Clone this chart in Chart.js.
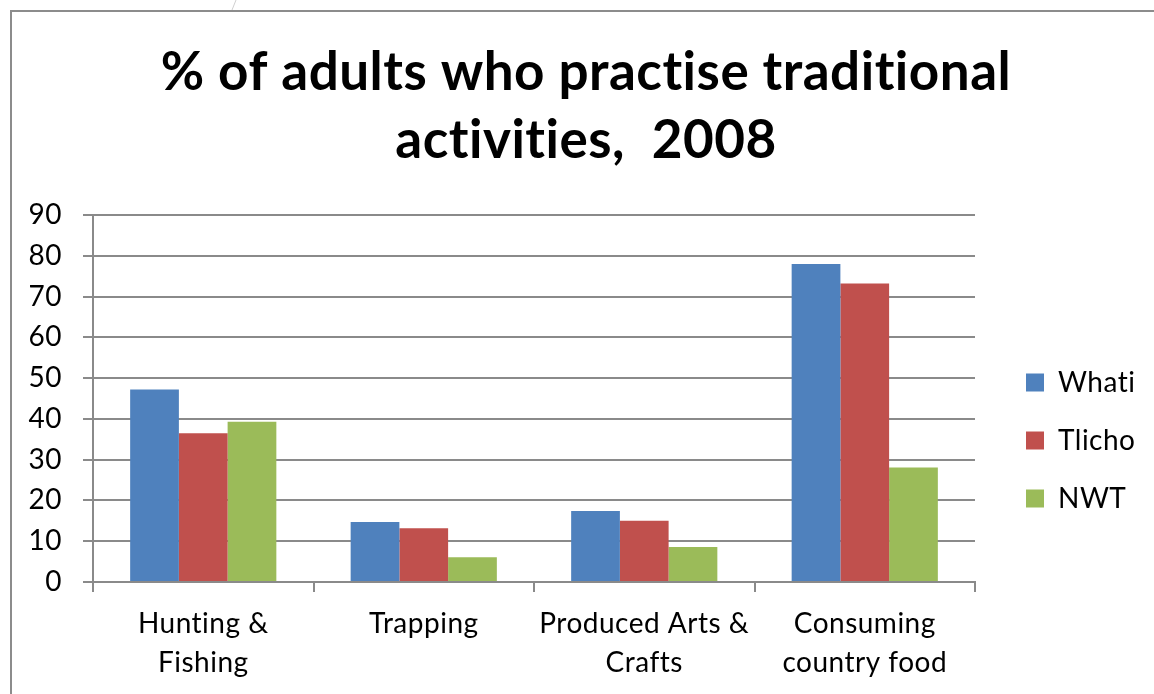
<!DOCTYPE html>
<html>
<head>
<meta charset="utf-8">
<title>% of adults who practise traditional activities, 2008</title>
<script src="https://cdn.jsdelivr.net/npm/chart.js@4.4.1/dist/chart.umd.min.js"></script>
<style>
    html, body { margin: 0; padding: 0; background: #fff; }
    #wrap { width: 1154px; height: 694px; position: relative; }
</style>
</head>
<body>
<div id="wrap"><canvas id="chart"></canvas></div>
<script>
// === data ===
const categories = [
    ["Hunting &", "Fishing"],
    ["Trapping"],
    ["Produced Arts &", "Crafts"],
    ["Consuming", "country food"],
];
const seriesNames = ["Whati", "Tlicho", "NWT"];
const whati = [47.2, 14.7, 17.4, 78.0];
const tlicho = [36.5, 13.2, 15.0, 73.2];
const nwt = [39.3, 6.1, 8.6, 28.1];
const yTicks = [0, 10, 20, 30, 40, 50, 60, 70, 80, 90];

const colors = ["#4F81BD", "#C0504D", "#9BBB59"];
const GRID = "#8a8a8a";
const FONT = "Lato, 'Open Sans', sans-serif";

// no "ti" ligatures: a tiny letter spacing turns them off in canvas text
function noLigatures(chart) {
    chart.ctx.letterSpacing = "0.5px";
}

// chart frame + legend width / placement
const framePlugin = {
    id: "frame",
    beforeUpdate(chart) {
        noLigatures(chart);
        const lg = chart.legend;
        if (lg && !lg._fixedFit) {
            const fit = lg.fit.bind(lg);
            lg.fit = function () {
                fit();
                this.width = 179;
            };
            lg._fixedFit = true;
        }
    },
    afterLayout(chart) {
        const lg = chart.legend;
        const dx = 1026 - (lg.left + lg.options.labels.padding);
        const dy = 42;
        lg.left += dx; lg.right += dx;
        lg.top += dy; lg.bottom += dy;
        if (lg.adjustHitBoxes) lg.adjustHitBoxes();
    },
    beforeDraw(chart) {
        noLigatures(chart);
        const ctx = chart.ctx;
        ctx.save();
        ctx.strokeStyle = "#8c8c8c";
        ctx.lineWidth = 2;
        ctx.beginPath();
        ctx.moveTo(11, chart.height + 5);
        ctx.lineTo(11, 11);
        ctx.lineTo(chart.width + 5, 11);
        ctx.stroke();
        ctx.strokeStyle = "#d0d0d0";
        ctx.lineWidth = 1;
        ctx.beginPath();
        ctx.moveTo(236, 0);
        ctx.lineTo(232, 10);
        ctx.stroke();
        ctx.restore();
    }
};

const ctx = document.getElementById("chart").getContext("2d");
new Chart(ctx, {
    type: "bar",
    data: {
        labels: categories,
        datasets: seriesNames.map((name, i) => ({
            label: name,
            data: [whati, tlicho, nwt][i],
            backgroundColor: colors[i],
            borderWidth: 0,
            barPercentage: 1,
            categoryPercentage: 0.663,
        })),
    },
    options: {
        responsive: true,
        maintainAspectRatio: false,
        animation: false,
        layout: { padding: { left: 18, right: 0, top: 0, bottom: 0 } },
        scales: {
            y: {
                min: 0,
                max: 90,
                afterBuildTicks: (s) => { s.ticks = yTicks.map(v => ({ value: v })); },
                afterFit: (s) => { s.width = 75; },
                ticks: {
                    color: "#000",
                    padding: 21,
                    font: { family: FONT, size: 28 },
                },
                grid: { color: GRID, lineWidth: 2, tickLength: 10 },
                border: { color: GRID, width: 2 },
            },
            x: {
                afterFit: (s) => { s.height = 112; },
                ticks: {
                    color: "#000",
                    padding: 12,
                    maxRotation: 0,
                    autoSkip: false,
                    font: { family: FONT, size: 28, lineHeight: 1.4 },
                },
                grid: { color: GRID, lineWidth: 2, tickLength: 10, drawOnChartArea: false },
                border: { color: GRID, width: 2 },
            },
        },
        plugins: {
            title: {
                display: true,
                text: ["% of adults who practise traditional", "activities,  2008"],
                color: "#000",
                font: { family: FONT, size: 53, weight: "bold", lineHeight: 1.283 },
                padding: { top: 39, bottom: 40 },
            },
            legend: {
                position: "right",
                fullSize: false,
                labels: {
                    color: "#000",
                    boxWidth: 18,
                    boxHeight: 18,
                    padding: 30,
                    font: { family: FONT, size: 28 },
                },
            },
            tooltip: { enabled: false },
        },
    },
    plugins: [framePlugin],
});
</script>
</body>
</html>
